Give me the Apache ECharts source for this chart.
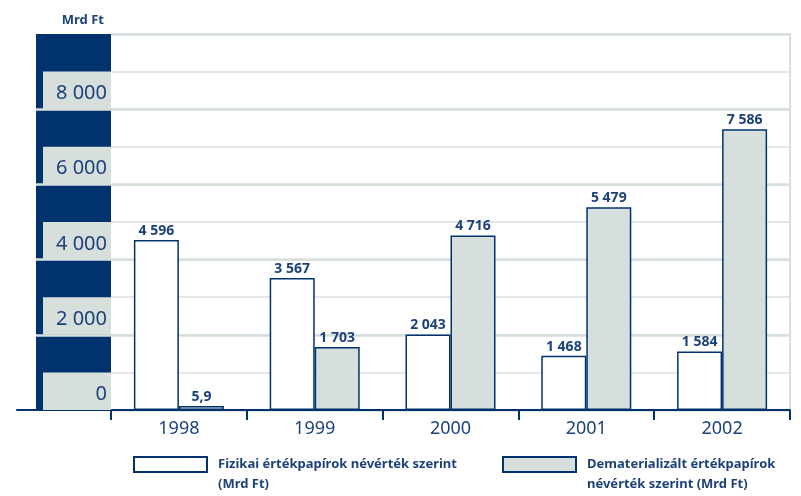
<!DOCTYPE html>
<html>
<head>
<meta charset="utf-8">
<script src="https://cdn.jsdelivr.net/npm/echarts@6/dist/echarts.min.js"></script>
<style>
html, body { margin: 0; padding: 0; background: #fff; }
#chart { width: 801px; height: 496px; }
</style>
</head>
<body>
<div id="chart"></div>
<script>
// data
var years = ['1998', '1999', '2000', '2001', '2002'];
var fizikai = [4596, 3567, 2043, 1468, 1584];
var demat = [5.9, 1703, 4716, 5479, 7586];
var yTicks = [0, 2000, 4000, 6000, 8000];
var yTickLabels = ['0', '2 000', '4 000', '6 000', '8 000'];
var seriesNames = ['Fizikai értékpapírok névérték szerint', 'Dematerializált értékpapírok'];
var legendLines = [
    ['Fizikai értékpapírok névérték szerint', '(Mrd Ft)'],
    ['Dematerializált értékpapírok', 'névérték szerint (Mrd Ft)']
];

var navy = '#00336e';
var textNavy = '#1c4279';
var lightGray = '#d6dfdc';
var font = 'Noto Sans';

function fmt(v) {
    var parts = String(v).split('.');
    var s = parts[0].replace(/\B(?=(\d{3})+(?!\d))/g, ' ');
    return parts.length > 1 ? s + ',' + parts[1] : s;
}

var chart = echarts.init(document.getElementById('chart'));

// gray label boxes on the left strip
var boxes = [];
var majorLines = [];
yTicks.forEach(function (t, i) {
    boxes.push([
        { coord: [26, t], name: yTickLabels[i], itemStyle: { color: lightGray } },
        { coord: [94, t + 1000] }
    ]);
    if (t > 0) {
        majorLines.push([{ coord: [19, t] }, { coord: [94, t] }]);
    }
});

var barLabel = {
    show: true, position: 'top', distance: 2,
    color: textNavy, fontSize: 14, fontWeight: 'bold', fontFamily: font,
    formatter: function (p) { return fmt(p.value); }
};

var option = {
    animation: false,
    textStyle: { fontFamily: font },
    title: {
        text: 'Mrd Ft',
        right: 697,
        top: 14,
        padding: 0,
        textStyle: { fontSize: 13, fontWeight: 'bold', color: textNavy, fontFamily: font }
    },
    legend: [0, 1].map(function (i) {
        return {
            data: [seriesNames[i]],
            left: i === 0 ? 133 : 502,
            top: 438,
            padding: 0,
            icon: 'rect',
            itemWidth: 73,
            itemHeight: 15,
            selectedMode: false,
            // empty first line keeps the first text line level with the box
            formatter: function () {
                return '{a| }\n{a|' + legendLines[i][0] + '}\n{a|' + legendLines[i][1] + '}';
            },
            textStyle: {
                fontFamily: font,
                rich: {
                    a: {
                        fontSize: 13, fontWeight: 'bold', color: textNavy, fontFamily: font,
                        lineHeight: 20, padding: [0, 0, 0, 6]
                    }
                }
            }
        };
    }),
    grid: [
        { left: 111, right: 11, top: 34, bottom: 86 },
        { left: 17, width: 94, top: 34, bottom: 86 }
    ],
    xAxis: [
        {
            type: 'category',
            gridIndex: 0,
            data: years,
            axisLine: { lineStyle: { color: navy, width: 2 } },
            axisTick: { show: true, length: 10, lineStyle: { color: navy, width: 2 } },
            axisLabel: { color: textNavy, fontSize: 18, margin: 10, fontFamily: font }
        },
        {
            type: 'value',
            gridIndex: 1,
            min: 0,
            max: 94,
            axisLine: { show: true, lineStyle: { color: navy, width: 2 } },
            axisTick: { show: false },
            axisLabel: { show: false },
            splitLine: { show: false }
        }
    ],
    yAxis: [
        {
            type: 'value',
            gridIndex: 0,
            min: 0,
            max: 10000,
            interval: 1000,
            axisLine: { show: false },
            axisTick: { show: false },
            axisLabel: { show: false },
            splitLine: { lineStyle: { color: lightGray, width: 1.5 } }
        },
        {
            type: 'value',
            gridIndex: 1,
            min: 0,
            max: 10000,
            interval: 2000,
            axisLine: { show: false },
            axisTick: { show: false },
            axisLabel: { show: false },
            splitLine: { show: false }
        },
        {
            type: 'value',
            gridIndex: 0,
            position: 'right',
            min: 0,
            max: 10000,
            interval: 2000,
            axisLine: { show: true, lineStyle: { color: lightGray, width: 2 } },
            axisTick: { show: false },
            axisLabel: { show: false },
            splitLine: { lineStyle: { color: lightGray, width: 2.5 } }
        },
        {
            // the bars in the original sit a little lower than the grid lines
            type: 'value',
            gridIndex: 0,
            show: false,
            min: 0,
            max: 10160,
            splitLine: { show: false }
        }
    ],
    series: [
        {
            name: seriesNames[0],
            type: 'bar',
            xAxisIndex: 0,
            yAxisIndex: 3,
            data: fizikai,
            barWidth: 45,
            barGap: '0%',
            itemStyle: { color: '#ffffff', borderColor: navy, borderWidth: 1.5 },
            label: barLabel
        },
        {
            name: seriesNames[1],
            type: 'bar',
            xAxisIndex: 0,
            yAxisIndex: 3,
            data: demat,
            barWidth: 45,
            barMinHeight: 4,
            itemStyle: { color: lightGray, borderColor: navy, borderWidth: 1.5 },
            label: barLabel
        },
        {
            // navy strip with the tick label boxes
            type: 'line',
            xAxisIndex: 1,
            yAxisIndex: 1,
            data: [],
            silent: true,
            z: 1,
            markArea: {
                silent: true,
                label: {
                    show: true, position: 'insideRight', distance: 4, offset: [0, 3],
                    color: textNavy, fontSize: 20, fontFamily: font
                },
                data: [[
                    { coord: [19, 0], itemStyle: { color: navy }, label: { show: false } },
                    { coord: [94, 10000] }
                ]].concat(boxes)
            }
        },
        {
            type: 'line',
            xAxisIndex: 1,
            yAxisIndex: 1,
            data: [],
            silent: true,
            z: 3,
            markLine: {
                silent: true,
                symbol: 'none',
                label: { show: false },
                lineStyle: { color: lightGray, width: 2.5, type: 'solid' },
                data: majorLines
            }
        }
    ]
};

chart.setOption(option);
</script>
</body>
</html>
